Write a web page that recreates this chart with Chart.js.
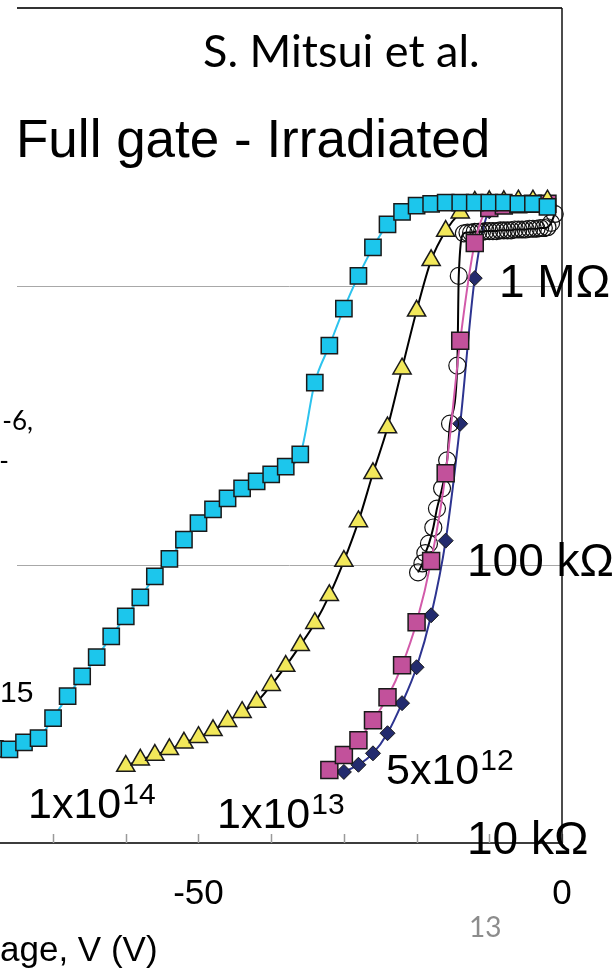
<!DOCTYPE html>
<html>
<head>
<meta charset="utf-8">
<script src="https://cdn.jsdelivr.net/npm/chart.js@4.4.0/dist/chart.umd.min.js"></script>
<style>
  html, body { margin: 0; padding: 0; background: #fff; }
</style>
</head>
<body>
<canvas id="rv" width="616" height="973"></canvas>
<script>
// gate voltage (V) vs channel resistance (Ohm)
const voltF15 = [-78, -76, -74, -72, -70, -68, -66, -64, -62, -60, -58, -56, -54, -52, -50, -48, -46, -44, -42, -40,
  -38, -36, -34, -32, -30, -28, -26, -24, -22, -20, -18, -16, -14, -12, -10, -8, -6, -4, -2];
const resF15 = [2.18e4, 2.17e4, 2.30e4, 2.38e4, 2.81e4, 3.37e4, 3.97e4, 4.65e4, 5.53e4, 6.52e4, 7.63e4, 9.08e4,
  1.05e5, 1.23e5, 1.41e5, 1.58e5, 1.73e5, 1.88e5, 1.99e5, 2.11e5, 2.25e5, 2.49e5, 4.51e5, 6.12e5, 8.31e5, 1.09e6,
  1.38e6, 1.67e6, 1.85e6, 1.95e6, 1.98e6, 2.0e6, 2.0e6, 2.0e6, 2.0e6, 2.0e6, 1.98e6, 1.98e6, 1.93e6];

const voltF14 = [-60, -58, -56, -54, -52, -50, -48, -46, -44, -42, -40, -38, -36, -34, -32, -30, -28, -26, -24, -22,
  -20, -18, -16, -14, -12, -10, -8, -6, -4, -2];
const resF14 = [1.89e4, 1.99e4, 2.07e4, 2.17e4, 2.29e4, 2.40e4, 2.54e4, 2.74e4, 2.95e4, 3.21e4, 3.69e4, 4.32e4,
  5.13e4, 6.16e4, 7.76e4, 1.03e5, 1.43e5, 2.13e5, 3.11e5, 5.06e5, 8.17e5, 1.24e6, 1.58e6, 1.84e6, 2.01e6, 2.02e6,
  2.02e6, 2.03e6, 2.03e6, 2.03e6];

const voltF13 = [-32, -30, -28, -26, -24, -22, -20, -18, -16, -14, -12, -10, -8, -6, -4, -2];
const resF13 = [1.83e4, 2.07e4, 2.34e4, 2.76e4, 3.34e4, 4.35e4, 6.21e4, 1.03e5, 2.13e5, 6.38e5, 1.43e6, 1.91e6,
  1.95e6, 1.97e6, 1.98e6, 1.98e6];

const voltF512 = [-30, -28, -26, -24, -22, -20, -18, -16, -14, -12, -10, -8, -6, -4, -2];
const resF512 = [1.80e4, 1.91e4, 2.10e4, 2.48e4, 3.18e4, 4.28e4, 6.58e4, 1.22e5, 3.21e5, 1.07e6, 1.86e6, 1.95e6,
  1.96e6, 1.96e6, 1.96e6];

const voltRef = [-19.8, -19.2, -18.8, -18.3, -17.7, -17.2, -16.5, -15.8, -15.4, -14.4, -14.2, -13.5, -13, -12.5, -12,
  -11.5, -11, -10.5, -10, -9.5, -9, -8.5, -8, -7.5, -7, -6.5, -6, -5.5, -5, -4.5, -4, -3.5, -3, -2.5, -2, -1.5, -1];
const resRef = [9.38e4, 1.01e5, 1.10e5, 1.19e5, 1.36e5, 1.59e5, 1.88e5, 2.37e5, 3.21e5, 5.19e5, 1.09e6, 1.55e6,
  1.56e6, 1.56e6, 1.57e6, 1.57e6, 1.57e6, 1.58e6, 1.58e6, 1.58e6, 1.58e6, 1.59e6, 1.59e6, 1.59e6, 1.59e6, 1.60e6,
  1.60e6, 1.60e6, 1.60e6, 1.61e6, 1.61e6, 1.61e6, 1.62e6, 1.62e6, 1.63e6, 1.69e6, 1.82e6];

const xLabelTicks = [-50, 0];
const xMinorTicks = [-70, -60, -50, -40, -30, -20, -10, 0];
const resGrid = [1e5, 1e6];
const resLabels = [['1 MΩ', 1e6], ['100 kΩ', 1e5], ['10 kΩ', 1e4]];
const doseLabels = [['1x10', '14'], ['1x10', '13'], ['5x10', '12']];

const ARIAL = '"Liberation Sans", Arial, sans-serif';
const CALIBRI = 'Lato, "Open Sans", sans-serif';

const pts = (v, r) => v.map((x, i) => ({ x, y: r[i] }));

function series(label, v, r, line, style, fill, radius, bw) {
  return {
    label,
    data: pts(v, r),
    borderColor: line,
    borderWidth: 2,
    pointStyle: style,
    pointRadius: radius,
    pointBackgroundColor: fill,
    pointBorderColor: style === 'circle' ? '#111' : '#1a1a1a',
    pointBorderWidth: bw,
    cubicInterpolationMode: 'monotone',
    clip: false,
  };
}

const overlay = {
  id: 'overlay',
  beforeDatasetsDraw(chart) {
    const { ctx, chartArea: a, scales: { x, y } } = chart;
    ctx.save();
    ctx.strokeStyle = '#a8a8a8';
    ctx.lineWidth = 1;
    resGrid.forEach(v => {
      const py = Math.round(y.getPixelForValue(v)) + 0.5;
      ctx.beginPath(); ctx.moveTo(17, py); ctx.lineTo(a.right, py); ctx.stroke();
    });
    // small tick marks standing inside the plot
    ctx.strokeStyle = '#9a9a9a';
    ctx.lineWidth = 1.5;
    xMinorTicks.forEach(v => {
      const px = Math.round(x.getPixelForValue(v)) + 0.5;
      ctx.beginPath(); ctx.moveTo(px, a.bottom); ctx.lineTo(px, a.bottom - 9); ctx.stroke();
    });
    ctx.restore();
  },
  afterDraw(chart) {
    const { ctx, chartArea: a, scales: { y } } = chart;
    ctx.save();
    // frame: top and right
    ctx.strokeStyle = '#333';
    ctx.lineWidth = 2;
    ctx.beginPath(); ctx.moveTo(17, a.top); ctx.lineTo(a.right, a.top); ctx.stroke();
    ctx.strokeStyle = '#111';
    ctx.lineWidth = 1.5;
    ctx.beginPath(); ctx.moveTo(a.right, a.top); ctx.lineTo(a.right, a.bottom); ctx.stroke();

    ctx.fillStyle = '#000';
    ctx.textBaseline = 'alphabetic';
    ctx.textAlign = 'left';

    ctx.font = '45px ' + CALIBRI;
    ctx.fillText('S. Mitsui et al.', 203, 67);
    ctx.font = '53px ' + ARIAL;
    ctx.fillText('Full gate - Irradiated', 16, 157);

    // resistance labels on the right
    ctx.font = '46px ' + ARIAL;
    resLabels.forEach(([t, v], i) => {
      ctx.fillText(t, i === 0 ? 499 : 467, y.getPixelForValue(v) + 11);
    });

    // dose labels with superscripts
    const dosePos = [[28, 818], [217, 828], [386, 784]];
    doseLabels.forEach(([base, sup], i) => {
      const [px, py] = dosePos[i];
      ctx.font = '43px ' + ARIAL;
      ctx.fillText(base, px, py);
      const w = ctx.measureText(base).width;
      ctx.font = '30px ' + ARIAL;
      ctx.fillText(sup, px + w + 1, py - 14);
    });

    // text cut by the left edge of the slide
    ctx.font = '30px ' + ARIAL;
    ctx.fillText('15', 0, 702);
    ctx.font = '26px ' + CALIBRI;
    ctx.textAlign = 'right';
    ctx.fillText('-6,', 33, 430);
    ctx.fillText('-', 9, 470);

    // slide number
    ctx.textAlign = 'left';
    ctx.fillStyle = '#8c8c8c';
    ctx.font = '28px ' + CALIBRI;
    ctx.fillText('13', 469, 937);
    ctx.restore();
  }
};

new Chart(document.getElementById('rv'), {
  type: 'line',
  data: {
    datasets: [
      series('1x10^15', voltF15, resF15, '#2cc3ee', 'rect', '#1cc6ec', 11.5, 1.5),
      series('1x10^14', voltF14, resF14, '#000000', 'triangle', '#f2e85a', 10.5, 1.5),
      series('1x10^13', voltF13, resF13, '#d25aaa', 'rect', '#c2519b', 12, 1.5),
      series('reference', voltRef, resRef, '#000000', 'circle', 'rgba(0,0,0,0)', 8.5, 1.2),
      series('5x10^12', voltF512, resF512, '#2d3490', 'rectRot', '#232b6e', 7.5, 1),
    ],
  },
  options: {
    responsive: false,
    animation: false,
    devicePixelRatio: 1,
    layout: { autoPadding: false, padding: { top: 8, right: 54, left: 0, bottom: 0 } },
    plugins: { legend: { display: false }, tooltip: { enabled: false } },
    scales: {
      x: {
        type: 'linear',
        min: -77.3,
        max: 0,
        grid: { display: false, drawTicks: false },
        border: { display: true, color: '#3c3c3c', width: 2 },
        afterBuildTicks: s => { s.ticks = xLabelTicks.map(v => ({ value: v })); },
        afterFit: s => { s.height = 130; },
        ticks: {
          autoSkip: false,
          maxRotation: 0,
          padding: 30,
          color: '#000',
          font: { family: ARIAL, size: 35 },
          callback: v => String(v),
        },
        title: {
          display: true,
          text: 'age, V (V)',
          align: 'start',
          color: '#000',
          font: { family: ARIAL, size: 35 },
          padding: { top: 14, bottom: 1 },
        },
      },
      y: { type: 'logarithmic', min: 1e4, max: 1e7, display: false },
    },
  },
  plugins: [overlay],
});
</script>
</body>
</html>
